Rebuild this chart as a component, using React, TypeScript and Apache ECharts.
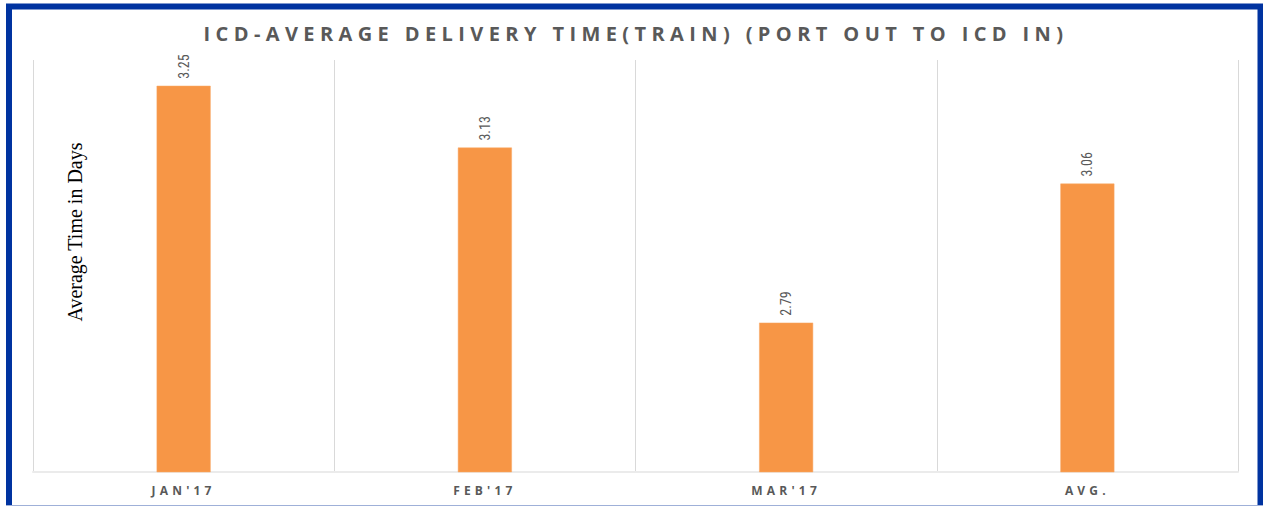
import React, { useEffect, useRef } from "react";
import * as echarts from "echarts";

const categories = ["JAN'17", "FEB'17", "MAR'17", "AVG."];
const values = [3.25, 3.13, 2.79, 3.06];
const titleText = "ICD-AVERAGE DELIVERY TIME(TRAIN) (PORT OUT TO ICD IN)";
const yAxisName = "Average Time in Days";

const css = `
text[style*="lsTitle"] { letter-spacing: 5.4px; }
text[style*="lsCat"] { letter-spacing: 4.2px; }
`;

export default function App() {
  const ref = useRef<HTMLDivElement>(null);
  useEffect(() => {
    document.body.style.margin = "0";
    const chart = echarts.init(ref.current!, undefined, { renderer: "svg" });
    chart.setOption({
      animation: false,
      backgroundColor: "#ffffff",
      grid: { left: 33, right: 25, top: 60, bottom: 34 },
      xAxis: {
        type: "category",
        data: categories,
        boundaryGap: true,
        axisLine: { show: true, lineStyle: { color: "#ebebeb", width: 2 } },
        axisTick: { show: false },
        splitLine: { show: true, lineStyle: { color: "#d9d9d9", width: 1 } },
        axisLabel: {
          margin: 12,
          color: "#595959",
          fontSize: 12,
          fontWeight: "bold",
          fontFamily: "'Open Sans', lsCat",
        },
      },
      yAxis: {
        type: "value",
        min: 2.5,
        max: 3.3,
        show: false,
        splitLine: { show: false },
      },
      series: [
        {
          type: "bar",
          data: values,
          barWidth: 54,
          itemStyle: { color: "#f79646", borderColor: "#f9a866", borderWidth: 0.5 },
          label: {
            show: true,
            position: "top",
            rotate: 90,
            align: "left",
            verticalAlign: "middle",
            distance: 7,
            color: "#595959",
            fontSize: 14,
            fontFamily: "'Liberation Sans Narrow', 'Roboto Condensed', 'Liberation Sans'",
            formatter: (p: any) => p.value.toFixed(2),
          },
        },
      ],
      graphic: [
        {
          type: "text",
          x: 636,
          y: 33,
          style: {
            text: titleText,
            fill: "#595959",
            font: "bold 20px 'Open Sans', lsTitle",
            align: "center",
            verticalAlign: "middle",
          },
        },
        {
          type: "text",
          x: 75,
          y: 232,
          rotation: Math.PI / 2,
          style: {
            text: yAxisName,
            fill: "#000000",
            font: "20px 'Liberation Serif', 'Times New Roman', serif",
            align: "center",
            verticalAlign: "middle",
          },
        },
        {
          type: "polyline",
          shape: { points: [[9, 506], [9, 6.5], [1260.5, 6.5], [1260.5, 506]] },
          style: { stroke: "#0033a0", lineWidth: 6, fill: "none" },
        },
        {
          type: "line",
          shape: { x1: 6, y1: 505.5, x2: 1263, y2: 505.5 },
          style: { stroke: "#9fb0d8", lineWidth: 1 },
        },
      ],
    });
    return () => chart.dispose();
  }, []);
  return (
    <>
      <style>{css}</style>
      <div ref={ref} style={{ position: "fixed", left: 0, top: 0, width: 1263, height: 506 }} />
    </>
  );
}
